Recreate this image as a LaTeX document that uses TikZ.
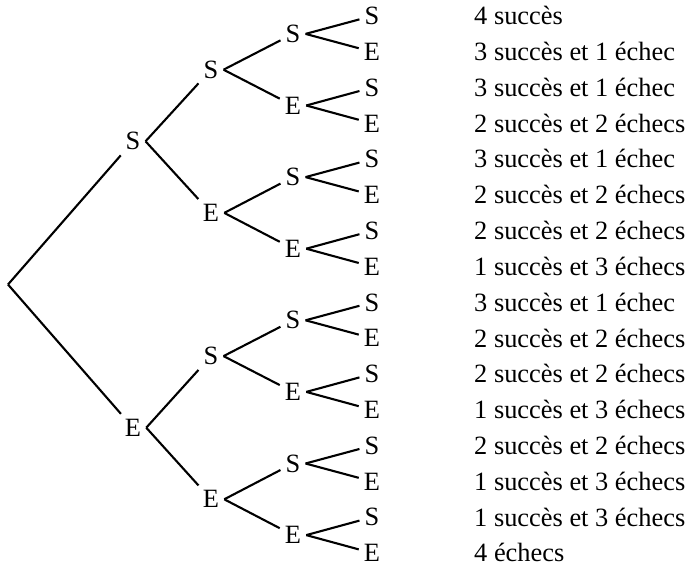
\documentclass[tikz,border=0pt]{standalone}
\usepackage{fontspec}
\setmainfont{Liberation Serif}
\begin{document}
\begin{tikzpicture}[x=1bp,y=-1bp,
  lbl/.style={inner sep=5bp, font=\fontsize{26.5}{30}\selectfont},
  res/.style={anchor=base west, inner sep=0pt, font=\fontsize{26.5}{30}\selectfont},
  br/.style={line width=2.1bp}]
\useasboundingbox (0,0) rectangle (691,568);
\def\sp{35.8}
% root
\coordinate (r) at (8,{16+\sp*7.5});
% level 1
\foreach \k in {0,1} \node[lbl] (a\k) at (133,{16+\sp*(8*\k+3.5)}) {\ifodd\k E\else S\fi};
% level 2
\foreach \k in {0,...,3} \node[lbl] (b\k) at (211,{16+\sp*(4*\k+1.5)}) {\ifodd\k E\else S\fi};
% level 3
\foreach \k in {0,...,7} \node[lbl] (c\k) at (293,{16+\sp*(2*\k+0.5)}) {\ifodd\k E\else S\fi};
% leaves
\foreach \k in {0,...,15} \node[lbl] (d\k) at (372,{16+\sp*\k}) {\ifodd\k E\else S\fi};
% results
\foreach \k/\t in {0/{4 succès},1/{3 succès et 1 échec},2/{3 succès et 1 échec},3/{2 succès et 2 échecs},
  4/{3 succès et 1 échec},5/{2 succès et 2 échecs},6/{2 succès et 2 échecs},7/{1 succès et 3 échecs},
  8/{3 succès et 1 échec},9/{2 succès et 2 échecs},10/{2 succès et 2 échecs},11/{1 succès et 3 échecs},
  12/{2 succès et 2 échecs},13/{1 succès et 3 échecs},14/{1 succès et 3 échecs},15/{4 échecs}}
  \node[res] (t\k) at (474,{16+\sp*\k+8.8}) {\t};
% branches
\draw[br] (r) -- (a0);
\draw[br] (r) -- (a1);
\foreach \k in {0,1} {
  \pgfmathtruncatemacro\ma{2*\k}\pgfmathtruncatemacro\mb{2*\k+1}
  \draw[br] (a\k.east) -- (b\ma);
  \draw[br] (a\k.east) -- (b\mb);
}
\foreach \k in {0,...,3} {
  \pgfmathtruncatemacro\ma{2*\k}\pgfmathtruncatemacro\mb{2*\k+1}
  \draw[br] (b\k.east) -- (c\ma);
  \draw[br] (b\k.east) -- (c\mb);
}
\foreach \k in {0,...,7} {
  \pgfmathtruncatemacro\ma{2*\k}\pgfmathtruncatemacro\mb{2*\k+1}
  \draw[br] (c\k.east) -- (d\ma);
  \draw[br] (c\k.east) -- (d\mb);
}
\end{tikzpicture}
\end{document}
